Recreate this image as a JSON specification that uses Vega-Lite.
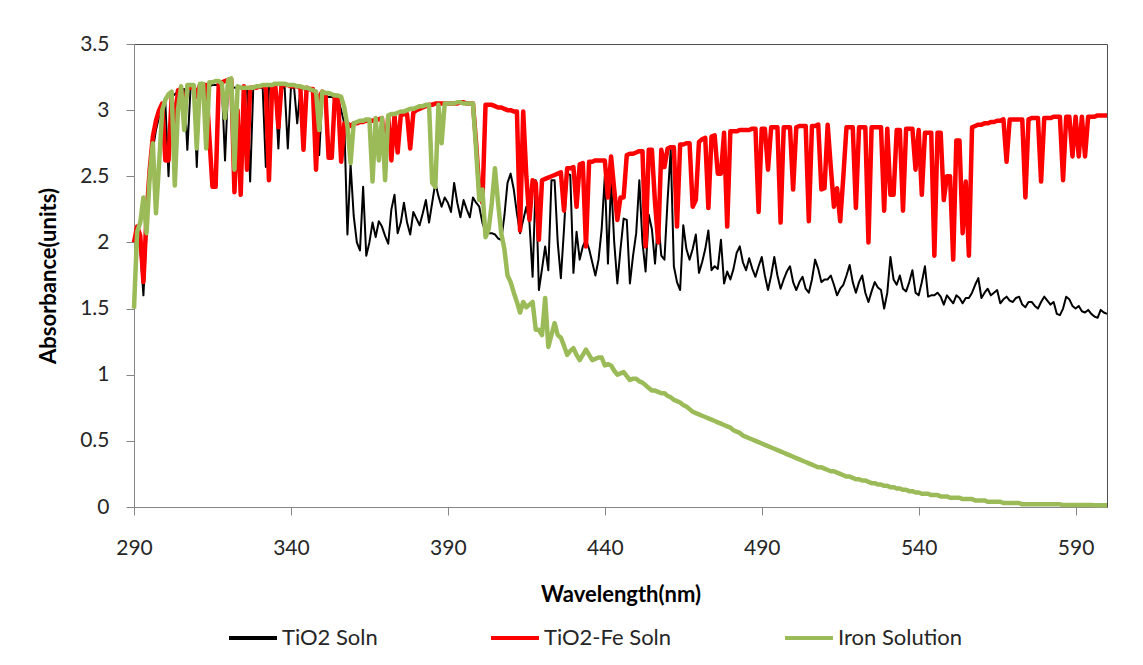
{
"$schema":"https://vega.github.io/schema/vega-lite/v6.json",
"width":973,"height":463,
"autosize":{"type":"none"},
"padding":{"left":134,"top":44,"right":36,"bottom":158},
"background":"white",
"config":{"font":"Lato","view":{"stroke":"#505050","strokeWidth":1}},
"data":{"values":[
{"w":290,"k":2.03,"r":2.00,"g":1.50},{"w":291,"k":2.07,"r":2.12,"g":2.08},{"w":292,"k":1.95,"r":2.05,"g":2.15},{"w":293,"k":1.60,"r":1.70,"g":2.34},{"w":294,"k":2.07,"r":2.20,"g":2.07},
{"w":295,"k":2.45,"r":2.55,"g":2.50},{"w":296,"k":2.70,"r":2.80,"g":2.75},{"w":297,"k":2.85,"r":2.92,"g":2.22},{"w":298,"k":2.95,"r":3.00,"g":2.60},{"w":299,"k":3.00,"r":3.05,"g":3.00},
{"w":300,"k":3.05,"r":2.62,"g":3.08},{"w":301,"k":2.50,"r":2.62,"g":3.12},{"w":302,"k":3.10,"r":3.10,"g":3.14},{"w":303,"k":3.12,"r":2.87,"g":2.43},{"w":304,"k":3.14,"r":3.15,"g":3.00},
{"w":305,"k":3.15,"r":3.16,"g":3.18},{"w":306,"k":3.16,"r":3.00,"g":2.85},{"w":307,"k":2.70,"r":3.17,"g":3.19},{"w":308,"k":3.16,"r":3.17,"g":3.19},{"w":309,"k":3.17,"r":3.18,"g":3.19},
{"w":310,"k":2.57,"r":3.10,"g":2.71},{"w":311,"k":3.17,"r":3.19,"g":3.20},{"w":312,"k":3.18,"r":3.19,"g":3.20},{"w":313,"k":3.18,"r":3.19,"g":2.71},{"w":314,"k":3.18,"r":2.80,"g":3.21},
{"w":315,"k":3.19,"r":2.42,"g":3.21},{"w":316,"k":3.19,"r":2.42,"g":3.22},{"w":317,"k":3.19,"r":3.20,"g":3.22},{"w":318,"k":3.18,"r":3.21,"g":3.20},{"w":319,"k":2.62,"r":3.22,"g":2.94},
{"w":320,"k":3.18,"r":3.23,"g":3.23},{"w":321,"k":3.18,"r":3.23,"g":3.24},{"w":322,"k":3.17,"r":2.38,"g":2.55},{"w":323,"k":3.17,"r":3.00,"g":3.18},{"w":324,"k":3.17,"r":2.36,"g":3.17},
{"w":325,"k":3.17,"r":3.18,"g":3.17},{"w":326,"k":3.17,"r":2.55,"g":3.17},{"w":327,"k":2.46,"r":3.17,"g":3.17},{"w":328,"k":3.17,"r":3.17,"g":3.17},{"w":329,"k":3.17,"r":3.17,"g":3.18},
{"w":330,"k":3.17,"r":3.18,"g":3.18},{"w":331,"k":3.17,"r":3.18,"g":3.19},{"w":332,"k":2.57,"r":3.18,"g":3.19},{"w":333,"k":3.17,"r":2.47,"g":3.19},{"w":334,"k":3.17,"r":3.18,"g":3.19},
{"w":335,"k":3.17,"r":3.19,"g":3.20},{"w":336,"k":2.71,"r":2.87,"g":3.20},{"w":337,"k":3.17,"r":3.19,"g":3.20},{"w":338,"k":3.17,"r":3.19,"g":3.20},{"w":339,"k":2.71,"r":3.19,"g":3.19},
{"w":340,"k":3.17,"r":3.18,"g":3.19},{"w":341,"k":3.17,"r":3.18,"g":3.19},{"w":342,"k":2.90,"r":3.18,"g":3.18},{"w":343,"k":3.16,"r":3.17,"g":3.18},{"w":344,"k":3.16,"r":2.70,"g":3.17},
{"w":345,"k":3.15,"r":3.17,"g":3.17},{"w":346,"k":3.15,"r":3.16,"g":3.16},{"w":347,"k":3.14,"r":3.16,"g":3.15},{"w":348,"k":3.13,"r":2.55,"g":3.14},{"w":349,"k":2.66,"r":3.10,"g":2.85},
{"w":350,"k":3.12,"r":3.14,"g":3.14},{"w":351,"k":3.11,"r":3.12,"g":3.13},{"w":352,"k":3.10,"r":2.64,"g":3.13},{"w":353,"k":3.10,"r":2.64,"g":3.12},{"w":354,"k":3.09,"r":3.11,"g":3.11},
{"w":355,"k":3.08,"r":3.10,"g":3.11},{"w":356,"k":3.00,"r":2.61,"g":3.10},{"w":357,"k":2.90,"r":2.90,"g":3.02},{"w":358,"k":2.06,"r":2.90,"g":2.88},{"w":359,"k":2.59,"r":2.88,"g":2.60},
{"w":360,"k":2.20,"r":2.90,"g":2.90},{"w":361,"k":2.00,"r":2.90,"g":2.91},{"w":362,"k":1.94,"r":2.91,"g":2.92},{"w":363,"k":2.42,"r":2.91,"g":2.92},{"w":364,"k":1.90,"r":2.92,"g":2.93},
{"w":365,"k":2.00,"r":2.92,"g":2.93},{"w":366,"k":2.15,"r":2.92,"g":2.46},{"w":367,"k":2.04,"r":2.93,"g":2.94},{"w":368,"k":2.16,"r":2.93,"g":2.62},{"w":369,"k":2.12,"r":2.94,"g":2.94},
{"w":370,"k":2.05,"r":2.65,"g":2.47},{"w":371,"k":1.99,"r":2.95,"g":2.96},{"w":372,"k":2.25,"r":2.62,"g":2.97},{"w":373,"k":2.36,"r":2.96,"g":2.97},{"w":374,"k":2.07,"r":2.68,"g":2.98},
{"w":375,"k":2.15,"r":2.96,"g":2.99},{"w":376,"k":2.30,"r":2.97,"g":2.99},{"w":377,"k":2.15,"r":2.97,"g":3.00},{"w":378,"k":2.06,"r":2.71,"g":3.01},{"w":379,"k":2.23,"r":2.98,"g":3.01},
{"w":380,"k":2.18,"r":3.00,"g":3.02},{"w":381,"k":2.13,"r":3.01,"g":3.03},{"w":382,"k":2.22,"r":3.02,"g":3.03},{"w":383,"k":2.32,"r":3.03,"g":3.04},{"w":384,"k":2.15,"r":3.04,"g":3.04},
{"w":385,"k":2.30,"r":3.04,"g":2.45},{"w":386,"k":2.45,"r":3.05,"g":2.42},{"w":387,"k":2.35,"r":3.05,"g":3.04},{"w":388,"k":2.27,"r":3.05,"g":2.75},{"w":389,"k":2.34,"r":3.05,"g":3.05},
{"w":390,"k":2.30,"r":3.05,"g":3.05},{"w":391,"k":2.23,"r":3.05,"g":3.05},{"w":392,"k":2.45,"r":3.05,"g":3.05},{"w":393,"k":2.30,"r":3.05,"g":3.06},{"w":394,"k":2.19,"r":3.06,"g":3.06},
{"w":395,"k":2.32,"r":3.06,"g":3.05},{"w":396,"k":2.25,"r":3.05,"g":3.05},{"w":397,"k":2.19,"r":3.05,"g":3.05},{"w":398,"k":2.34,"r":3.05,"g":3.05},{"w":399,"k":2.30,"r":2.75,"g":2.70},
{"w":400,"k":2.27,"r":2.40,"g":2.32},{"w":401,"k":2.15,"r":2.30,"g":2.40},{"w":402,"k":2.08,"r":3.04,"g":2.04},{"w":403,"k":2.07,"r":3.04,"g":2.10},{"w":404,"k":2.07,"r":3.04,"g":2.30},
{"w":405,"k":2.06,"r":3.03,"g":2.56},{"w":406,"k":2.03,"r":3.02,"g":2.30},{"w":407,"k":2.02,"r":3.02,"g":2.07},{"w":408,"k":2.20,"r":3.01,"g":1.95},{"w":409,"k":2.45,"r":3.00,"g":1.75},
{"w":410,"k":2.52,"r":3.00,"g":1.70},{"w":411,"k":2.40,"r":2.99,"g":1.62},{"w":412,"k":2.22,"r":2.99,"g":1.55},{"w":413,"k":2.07,"r":2.09,"g":1.47},{"w":414,"k":2.17,"r":2.99,"g":1.55},
{"w":415,"k":2.27,"r":2.50,"g":1.51},{"w":416,"k":2.15,"r":2.17,"g":1.53},{"w":417,"k":1.74,"r":2.47,"g":1.55},{"w":418,"k":2.47,"r":2.45,"g":1.34},{"w":419,"k":1.64,"r":2.02,"g":1.34},
{"w":420,"k":1.80,"r":2.47,"g":1.30},{"w":421,"k":1.97,"r":2.48,"g":1.58},{"w":422,"k":1.79,"r":2.49,"g":1.21},{"w":423,"k":2.47,"r":2.50,"g":1.30},{"w":424,"k":2.47,"r":2.51,"g":1.39},
{"w":425,"k":2.00,"r":2.52,"g":1.30},{"w":426,"k":1.73,"r":2.53,"g":1.28},{"w":427,"k":2.10,"r":2.24,"g":1.22},{"w":428,"k":2.52,"r":2.56,"g":1.15},{"w":429,"k":2.51,"r":2.56,"g":1.18},
{"w":430,"k":1.77,"r":2.57,"g":1.20},{"w":431,"k":2.08,"r":2.27,"g":1.15},{"w":432,"k":1.87,"r":2.59,"g":1.11},{"w":433,"k":1.97,"r":2.60,"g":1.15},{"w":434,"k":2.02,"r":1.97,"g":1.19},
{"w":435,"k":1.95,"r":2.61,"g":1.15},{"w":436,"k":1.85,"r":2.61,"g":1.11},{"w":437,"k":1.75,"r":2.62,"g":1.12},{"w":438,"k":1.87,"r":2.62,"g":1.13},{"w":439,"k":2.10,"r":2.62,"g":1.13},
{"w":440,"k":2.50,"r":2.62,"g":1.07},{"w":441,"k":1.84,"r":2.34,"g":1.08},{"w":442,"k":2.47,"r":2.65,"g":1.07},{"w":443,"k":2.00,"r":2.40,"g":1.03},{"w":444,"k":1.69,"r":2.17,"g":1.00},
{"w":445,"k":1.95,"r":2.34,"g":1.01},{"w":446,"k":2.18,"r":2.34,"g":1.02},{"w":447,"k":2.17,"r":2.66,"g":0.99},{"w":448,"k":1.69,"r":2.67,"g":0.96},{"w":449,"k":1.90,"r":2.67,"g":0.97},
{"w":450,"k":2.07,"r":2.68,"g":0.97},{"w":451,"k":2.47,"r":2.69,"g":0.95},{"w":452,"k":2.00,"r":2.69,"g":0.94},{"w":453,"k":1.78,"r":1.97,"g":0.92},{"w":454,"k":2.21,"r":2.70,"g":0.90},
{"w":455,"k":2.10,"r":2.70,"g":0.88},{"w":456,"k":1.84,"r":2.30,"g":0.88},{"w":457,"k":2.17,"r":2.00,"g":0.87},{"w":458,"k":1.90,"r":2.70,"g":0.86},{"w":459,"k":1.87,"r":2.57,"g":0.86},
{"w":460,"k":2.32,"r":2.71,"g":0.84},{"w":461,"k":2.70,"r":2.72,"g":0.83},{"w":462,"k":1.82,"r":2.72,"g":0.81},{"w":463,"k":1.70,"r":2.12,"g":0.80},{"w":464,"k":1.64,"r":2.74,"g":0.79},
{"w":465,"k":2.13,"r":2.74,"g":0.77},{"w":466,"k":1.95,"r":2.75,"g":0.76},{"w":467,"k":1.87,"r":2.75,"g":0.74},{"w":468,"k":1.95,"r":2.27,"g":0.72},{"w":469,"k":2.06,"r":2.32,"g":0.71},
{"w":470,"k":1.77,"r":2.76,"g":0.70},{"w":471,"k":1.85,"r":2.78,"g":0.69},{"w":472,"k":1.95,"r":2.79,"g":0.68},{"w":473,"k":2.09,"r":2.26,"g":0.67},{"w":474,"k":1.79,"r":2.80,"g":0.66},
{"w":475,"k":1.82,"r":2.81,"g":0.65},{"w":476,"k":1.80,"r":2.52,"g":0.64},{"w":477,"k":2.02,"r":2.52,"g":0.63},{"w":478,"k":1.69,"r":2.83,"g":0.62},{"w":479,"k":1.78,"r":2.12,"g":0.61},
{"w":480,"k":1.72,"r":2.84,"g":0.60},{"w":481,"k":1.80,"r":2.84,"g":0.58},{"w":482,"k":1.92,"r":2.84,"g":0.57},{"w":483,"k":1.97,"r":2.85,"g":0.56},{"w":484,"k":1.85,"r":2.85,"g":0.54},
{"w":485,"k":1.79,"r":2.85,"g":0.53},{"w":486,"k":1.88,"r":2.85,"g":0.52},{"w":487,"k":1.80,"r":2.86,"g":0.51},{"w":488,"k":1.74,"r":2.86,"g":0.50},{"w":489,"k":1.82,"r":2.23,"g":0.49},
{"w":490,"k":1.89,"r":2.86,"g":0.48},{"w":491,"k":1.75,"r":2.86,"g":0.47},{"w":492,"k":1.64,"r":2.55,"g":0.46},{"w":493,"k":1.75,"r":2.87,"g":0.45},{"w":494,"k":1.89,"r":2.87,"g":0.44},
{"w":495,"k":1.75,"r":2.87,"g":0.43},{"w":496,"k":1.65,"r":2.15,"g":0.42},{"w":497,"k":1.72,"r":2.87,"g":0.41},{"w":498,"k":1.78,"r":2.87,"g":0.40},{"w":499,"k":1.82,"r":2.87,"g":0.39},
{"w":500,"k":1.70,"r":2.40,"g":0.38},{"w":501,"k":1.64,"r":2.87,"g":0.37},{"w":502,"k":1.70,"r":2.88,"g":0.36},{"w":503,"k":1.74,"r":2.88,"g":0.35},{"w":504,"k":1.65,"r":2.88,"g":0.34},
{"w":505,"k":1.62,"r":2.16,"g":0.33},{"w":506,"k":1.72,"r":2.88,"g":0.32},{"w":507,"k":1.87,"r":2.88,"g":0.31},{"w":508,"k":1.80,"r":2.89,"g":0.30},{"w":509,"k":1.70,"r":2.40,"g":0.30},
{"w":510,"k":1.72,"r":2.41,"g":0.29},{"w":511,"k":1.72,"r":2.89,"g":0.28},{"w":512,"k":1.75,"r":2.57,"g":0.27},{"w":513,"k":1.68,"r":2.27,"g":0.27},{"w":514,"k":1.60,"r":2.41,"g":0.26},
{"w":515,"k":1.65,"r":2.16,"g":0.25},{"w":516,"k":1.68,"r":2.50,"g":0.24},{"w":517,"k":1.75,"r":2.87,"g":0.23},{"w":518,"k":1.83,"r":2.87,"g":0.23},{"w":519,"k":1.70,"r":2.87,"g":0.22},
{"w":520,"k":1.62,"r":2.26,"g":0.21},{"w":521,"k":1.70,"r":2.87,"g":0.21},{"w":522,"k":1.75,"r":2.87,"g":0.20},{"w":523,"k":1.62,"r":2.87,"g":0.20},{"w":524,"k":1.55,"r":2.00,"g":0.19},
{"w":525,"k":1.63,"r":2.87,"g":0.18},{"w":526,"k":1.70,"r":2.87,"g":0.18},{"w":527,"k":1.66,"r":2.87,"g":0.17},{"w":528,"k":1.64,"r":2.87,"g":0.17},{"w":529,"k":1.50,"r":2.24,"g":0.16},
{"w":530,"k":1.62,"r":2.86,"g":0.16},{"w":531,"k":1.89,"r":2.36,"g":0.15},{"w":532,"k":1.72,"r":2.36,"g":0.15},{"w":533,"k":1.68,"r":2.85,"g":0.14},{"w":534,"k":1.75,"r":2.85,"g":0.14},
{"w":535,"k":1.65,"r":2.24,"g":0.13},{"w":536,"k":1.63,"r":2.86,"g":0.13},{"w":537,"k":1.70,"r":2.86,"g":0.12},{"w":538,"k":1.79,"r":2.86,"g":0.12},{"w":539,"k":1.62,"r":2.55,"g":0.11},
{"w":540,"k":1.60,"r":2.85,"g":0.11},{"w":541,"k":1.70,"r":2.36,"g":0.10},{"w":542,"k":1.82,"r":2.83,"g":0.10},{"w":543,"k":1.59,"r":2.83,"g":0.10},{"w":544,"k":1.60,"r":2.83,"g":0.09},
{"w":545,"k":1.60,"r":1.90,"g":0.09},{"w":546,"k":1.62,"r":2.83,"g":0.09},{"w":547,"k":1.59,"r":2.83,"g":0.08},{"w":548,"k":1.53,"r":2.32,"g":0.08},{"w":549,"k":1.60,"r":2.50,"g":0.08},
{"w":550,"k":1.57,"r":2.50,"g":0.07},{"w":551,"k":1.54,"r":1.87,"g":0.07},{"w":552,"k":1.60,"r":2.77,"g":0.07},{"w":553,"k":1.58,"r":2.77,"g":0.07},{"w":554,"k":1.54,"r":2.07,"g":0.06},
{"w":555,"k":1.58,"r":2.46,"g":0.06},{"w":556,"k":1.58,"r":1.90,"g":0.06},{"w":557,"k":1.62,"r":2.87,"g":0.06},{"w":558,"k":1.68,"r":2.88,"g":0.05},{"w":559,"k":1.73,"r":2.89,"g":0.05},
{"w":560,"k":1.58,"r":2.89,"g":0.05},{"w":561,"k":1.62,"r":2.90,"g":0.05},{"w":562,"k":1.65,"r":2.90,"g":0.04},{"w":563,"k":1.60,"r":2.91,"g":0.04},{"w":564,"k":1.62,"r":2.91,"g":0.04},
{"w":565,"k":1.64,"r":2.92,"g":0.04},{"w":566,"k":1.54,"r":2.92,"g":0.04},{"w":567,"k":1.57,"r":2.93,"g":0.03},{"w":568,"k":1.59,"r":2.61,"g":0.03},{"w":569,"k":1.56,"r":2.93,"g":0.03},
{"w":570,"k":1.55,"r":2.93,"g":0.03},{"w":571,"k":1.58,"r":2.93,"g":0.03},{"w":572,"k":1.59,"r":2.93,"g":0.03},{"w":573,"k":1.53,"r":2.93,"g":0.02},{"w":574,"k":1.51,"r":2.34,"g":0.02},
{"w":575,"k":1.55,"r":2.93,"g":0.02},{"w":576,"k":1.55,"r":2.94,"g":0.02},{"w":577,"k":1.52,"r":2.94,"g":0.02},{"w":578,"k":1.50,"r":2.94,"g":0.02},{"w":579,"k":1.55,"r":2.46,"g":0.02},
{"w":580,"k":1.59,"r":2.94,"g":0.02},{"w":581,"k":1.56,"r":2.94,"g":0.02},{"w":582,"k":1.53,"r":2.94,"g":0.02},{"w":583,"k":1.55,"r":2.95,"g":0.02},{"w":584,"k":1.46,"r":2.95,"g":0.02},
{"w":585,"k":1.45,"r":2.95,"g":0.02},{"w":586,"k":1.50,"r":2.47,"g":0.015},{"w":587,"k":1.59,"r":2.95,"g":0.015},{"w":588,"k":1.57,"r":2.95,"g":0.015},{"w":589,"k":1.52,"r":2.65,"g":0.015},
{"w":590,"k":1.50,"r":2.95,"g":0.015},{"w":591,"k":1.52,"r":2.65,"g":0.015},{"w":592,"k":1.48,"r":2.95,"g":0.015},{"w":593,"k":1.47,"r":2.65,"g":0.015},{"w":594,"k":1.49,"r":2.95,"g":0.015},
{"w":595,"k":1.46,"r":2.95,"g":0.015},{"w":596,"k":1.44,"r":2.95,"g":0.013},{"w":597,"k":1.43,"r":2.96,"g":0.013},{"w":598,"k":1.49,"r":2.96,"g":0.013},{"w":599,"k":1.47,"r":2.96,"g":0.013},
{"w":600,"k":1.46,"r":2.96,"g":0.013}
]},
"transform":[{"fold":["k","r","g"],"as":["s","a"]}],
"encoding":{
"x":{"field":"w","type":"quantitative","scale":{"domain":[290,600],"nice":false,"zero":false},
"axis":{"values":[290,340,390,440,490,540,590],"format":"d","grid":false,"tickSize":8,"tickColor":"#868686","domainColor":"#868686","labelFontSize":21,"labelColor":"#262626","labelPadding":22,"labelFlush":false,"title":"Wavelength(nm)","titleFontSize":22,"titleFontWeight":"bold","titleColor":"#000000","titlePadding":26}},
"y":{"field":"a","type":"quantitative","scale":{"domain":[0,3.5],"nice":false,"zero":false},
"axis":{"values":[0,0.5,1,1.5,2,2.5,3,3.5],"format":"~g","grid":false,"tickSize":8,"tickColor":"#868686","domainColor":"#868686","labelFontSize":21,"labelColor":"#262626","labelPadding":17,"title":"Absorbance(units)","titleFontSize":22,"titleFontWeight":"bold","titleColor":"#000000","titlePadding":19}},
"color":{"field":"s","type":"nominal","scale":{"domain":["k","r","g"],"range":["#000000","#ff0000","#9bbb59"]},
"legend":{"orient":"none","legendX":93,"legendY":568,"direction":"horizontal","title":null,"symbolType":"stroke","symbolSize":2300,"symbolStrokeWidth":4,"labelFontSize":22,"labelColor":"#262626","labelOffset":3,"columnPadding":105,"labelLimit":400,
"labelExpr":"datum.label==='k'?'TiO2 Soln':(datum.label==='r'?'TiO2-Fe Soln':'Iron Solution')"}}
},
"layer":[
{"transform":[{"filter":"datum.s==='k'"}],"mark":{"type":"line","strokeWidth":2,"strokeJoin":"round"}},
{"transform":[{"filter":"datum.s==='r'"}],"mark":{"type":"line","strokeWidth":4.5,"strokeJoin":"round"}},
{"transform":[{"filter":"datum.s==='g'"}],"mark":{"type":"line","strokeWidth":4.5,"strokeJoin":"round"}}
]
}
